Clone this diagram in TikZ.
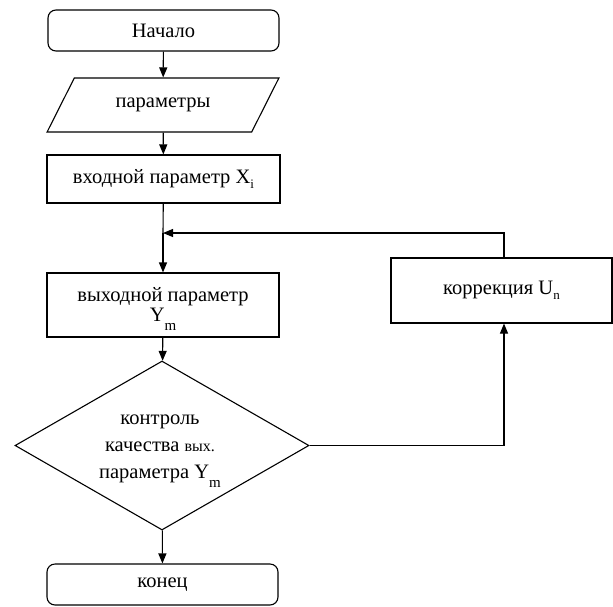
\documentclass[tikz,border=0pt]{standalone}
\usepackage{fontspec}
\setmainfont{Liberation Serif}
\usetikzlibrary{shapes.geometric,arrows.meta,calc}

% subscripts set lower than usual
\newcommand{\lowsub}[3][0.35em]{\raisebox{-#1}{\fontsize{#2}{#2}\selectfont #3}}

\begin{document}
\begin{tikzpicture}[x=1pt,y=-1pt,
  every node/.style={font=\fontsize{20.5}{27}\selectfont},
  flow/.style={draw, line width=1.1pt},
  terminal/.style={flow, rounded corners=8pt, minimum width=231pt, minimum height=41pt, inner sep=0pt},
  procbox/.style={flow, rectangle, inner sep=0pt, align=center},
  iobox/.style={flow, trapezium, trapezium left angle=44, trapezium right angle=136,
                trapezium stretches=true, minimum width=232pt, minimum height=54pt, inner sep=0pt},
  decision/.style={flow, diamond, minimum width=294pt, minimum height=169pt, inner sep=0pt},
  arr/.style={line width=1.1pt, -{Triangle[length=10pt,width=8pt]}},
  wire/.style={line width=1.1pt}
]
\useasboundingbox (0,0) rectangle (613,606);

\node[terminal] (start) at (163.5,30.5) {Начало};
\node[iobox] (params) at (163,105) {параметры};
\node[procbox, minimum width=233pt, minimum height=48pt] (input) at (163.5,179)
  {входной параметр X\lowsub[0.25em]{13}{i}};
\node[procbox, minimum width=232pt, minimum height=64pt] (output) at (163,305) {};
\node[align=center, inner sep=0pt] (outtext) at (163,309)
  {выходной параметр\\[-7pt]Y\lowsub[0.45em]{15}{m}};
\node[decision] (dec) at (162,445.5) {};
\node[align=center, inner sep=0pt] (dectext) at (160,451)
  {контроль\\качества {\fontsize{16}{16}\selectfont вых.}\\параметра Y\lowsub[0.45em]{15}{m}};
\node[terminal] (finish) at (162.5,584.5) {конец};
\node[procbox, minimum width=221pt, minimum height=65pt] (corr) at (501.5,290.5)
  {коррекция U\lowsub[0.25em]{13}{n}};

\coordinate (join) at (163,233);
\coordinate (corrtop) at ($(corr.north)+(2.5,0)$);
\coordinate (corrbot) at ($(corr.south)+(2.5,0)$);

\draw[arr] (start) -- (params);
\draw[arr] (params) -- (input);
\draw[wire] (input) -- (join);
\draw[arr] (join) -- (output);
\draw[arr] (corrtop) |- (join);
\draw[arr] (output) -- (dec);
\draw[arr] (dec) -- (finish);
\draw[arr] (dec.east) -| (corrbot);
\end{tikzpicture}
\end{document}
